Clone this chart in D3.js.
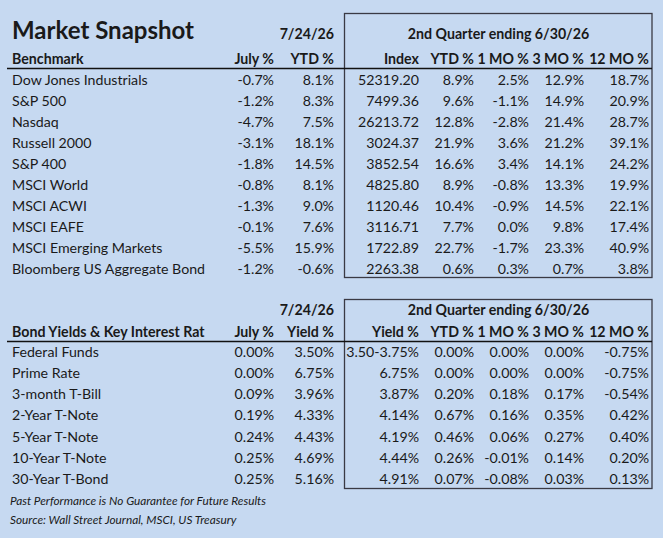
<!DOCTYPE html>
<html><head><meta charset="utf-8">
<script src="https://cdn.jsdelivr.net/npm/d3@7"></script>
<style>
html,body{margin:0;padding:0;background:#c6d9f1;}
svg{display:block;}
text{font-family:Lato,"Open Sans",sans-serif;fill:#1a1a1a;}
</style></head>
<body>
<svg id="c" width="663" height="538"></svg>
<script>
// ---- data ----
const benchmarks = ["Dow Jones Industrials","S&P 500","Nasdaq","Russell 2000","S&P 400","MSCI World","MSCI ACWI","MSCI EAFE","MSCI Emerging Markets","Bloomberg US Aggregate Bond"];
const julyPct  = [-0.7,-1.2,-4.7,-3.1,-1.8,-0.8,-1.3,-0.1,-5.5,-1.2];
const ytdPct   = [8.1,8.3,7.5,18.1,14.5,8.1,9.0,7.6,15.9,-0.6];
const qIndex   = [52319.20,7499.36,26213.72,3024.37,3852.54,4825.80,1120.46,3116.71,1722.89,2263.38];
const qYtd     = [8.9,9.6,12.8,21.9,16.6,8.9,10.4,7.7,22.7,0.6];
const q1Mo     = [2.5,-1.1,-2.8,3.6,3.4,-0.8,-0.9,0.0,-1.7,0.3];
const q3Mo     = [12.9,14.9,21.4,21.2,14.1,13.3,14.5,9.8,23.3,0.7];
const q12Mo    = [18.7,20.9,28.7,39.1,24.2,19.9,22.1,17.4,40.9,3.8];

const bonds      = ["Federal Funds","Prime Rate","3-month T-Bill","2-Year T-Note","5-Year T-Note","10-Year T-Note","30-Year T-Bond"];
const bJuly      = [0.00,0.00,0.09,0.19,0.24,0.25,0.25];
const bYield     = [3.50,6.75,3.96,4.33,4.43,4.69,5.16];
const bQYield    = ["3.50-3.75%","6.75%","3.87%","4.14%","4.19%","4.44%","4.91%"];
const bQYtd      = [0.00,0.00,0.20,0.67,0.46,0.26,0.07];
const bQ1Mo      = [0.00,0.00,0.18,0.16,0.06,-0.01,-0.08];
const bQ3Mo      = [0.00,0.00,0.17,0.35,0.27,0.14,0.03];
const bQ12Mo     = [-0.75,-0.75,-0.54,0.42,0.40,0.20,0.13];

const title = "Market Snapshot";
const asOfDate = "7/24/26";
const quarterLabel = "2nd Quarter ending 6/30/26";
const topHeaders = ["Benchmark","July %","YTD %","Index","YTD %","1 MO %","3 MO %","12 MO %"];
const bottomHeaders = ["Bond Yields & Key Interest Rat","July %","Yield %","Yield %","YTD %","1 MO %","3 MO %","12 MO %"];
const notes = ["Past Performance is No Guarantee for Future Results","Source: Wall Street Journal, MSCI, US Treasury"];

// ---- layout ----
const svg = d3.select("#c");
const FS = 14.2;
const colX = d3.scaleOrdinal().domain(d3.range(8)).range([12,274,334,419,474,529,584,649]);
const hy = s => s.replace(/\u2212/g, "-");
const fmt1 = v => hy(d3.format(".1f")(v)) + "%";
const fmt2 = v => hy(d3.format(".2f")(v)) + "%";
const fmtIdx = v => hy(d3.format(".2f")(v));

function txt(g, x, y, s, opts={}) {
  return g.append("text").attr("x", x).attr("y", y).text(s)
    .attr("font-size", opts.size || FS)
    .attr("font-weight", opts.bold ? 700 : 400)
    .attr("font-style", opts.italic ? "italic" : null)
    .attr("text-anchor", opts.anchor || "start");
}

function section(cfg) {
  const g = svg.append("g");
  const y = d3.scaleLinear().domain([0, 1]).range([cfg.row0, cfg.row0 + 21.05]);
  g.append("rect").attr("x", 344.5).attr("y", cfg.boxTop).attr("width", 307.5)
    .attr("height", cfg.boxBottom - cfg.boxTop).attr("fill", "none")
    .attr("stroke", "#3a3a44").attr("stroke-width", 1.3);
  txt(g, colX(2), cfg.dateY, asOfDate, {bold:true, anchor:"end"});
  txt(g, 498.5, cfg.dateY, quarterLabel, {bold:true, anchor:"middle"});
  cfg.headers.forEach((h, i) => txt(g, colX(i), cfg.headY, h, {bold:true, anchor: i === 0 ? "start" : "end"}));
  g.append("line").attr("x1", 7).attr("x2", 652).attr("y1", cfg.lineY).attr("y2", cfg.lineY)
    .attr("stroke", "#111").attr("stroke-width", 1.5);
  cfg.labels.forEach((name, r) => {
    const yy = y(r);
    txt(g, colX(0), yy, name);
    cfg.cols.forEach((c, ci) => txt(g, colX(ci + 1), yy, c.f(c.v[r]), {anchor:"end"}));
  });
}

txt(svg, 12, 38.5, title, {bold:true, size:24});

section({
  boxTop: 13.5, boxBottom: 277.5, dateY: 39, headY: 64, lineY: 68.5, row0: 85,
  headers: topHeaders, labels: benchmarks,
  cols: [
    {v: julyPct, f: fmt1}, {v: ytdPct, f: fmt1}, {v: qIndex, f: fmtIdx},
    {v: qYtd, f: fmt1}, {v: q1Mo, f: fmt1}, {v: q3Mo, f: fmt1}, {v: q12Mo, f: fmt1}
  ]
});

section({
  boxTop: 299.5, boxBottom: 488.5, dateY: 315, headY: 337, lineY: 341.5, row0: 357.3,
  headers: bottomHeaders, labels: bonds,
  cols: [
    {v: bJuly, f: fmt2}, {v: bYield, f: fmt2}, {v: bQYield, f: s => s},
    {v: bQYtd, f: fmt2}, {v: bQ1Mo, f: fmt2}, {v: bQ3Mo, f: fmt2}, {v: bQ12Mo, f: fmt2}
  ]
});

notes.forEach((n, i) => txt(svg, 10, 505 + i * 19, n, {italic:true, size:11.8}));
</script>
</body></html>
